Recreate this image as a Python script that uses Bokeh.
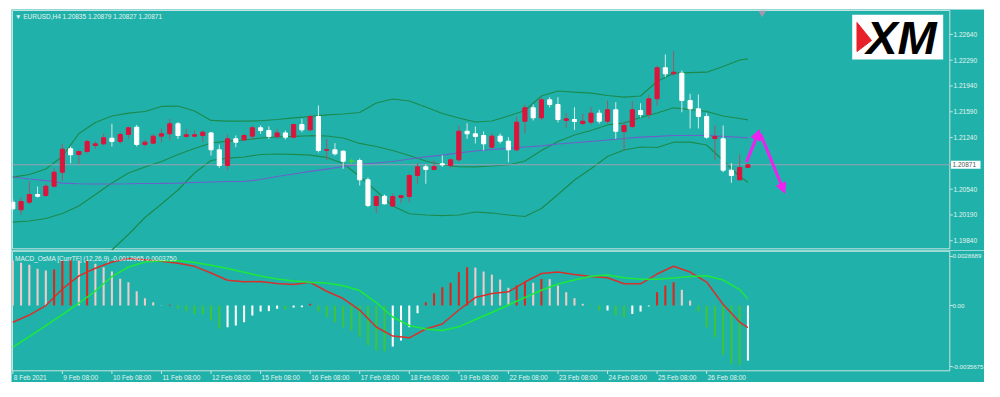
from bokeh.plotting import figure
from bokeh.models import Range1d, Spacer, Arrow, NormalHead
from bokeh.layouts import column, row
from bokeh.embed import file_html
from bokeh.resources import INLINE
from bokeh.core.properties import value

# ---------------- data (EURUSD H4) ----------------
bar_open = [1.20363, 1.20260, 1.20363, 1.20467, 1.20454, 1.20580, 1.20770, 1.21088, 1.21010, 1.21051,
            1.21132, 1.21155, 1.21231, 1.21187, 1.21282, 1.21381, 1.21146, 1.21164, 1.21259, 1.21291,
            1.21427, 1.21255, 1.21259, 1.21268, 1.21303, 1.21074, 1.20861, 1.21223, 1.21210, 1.21259,
            1.21373, 1.21336, 1.21255, 1.21303, 1.21245, 1.21417, 1.21345, 1.21526, 1.21068, 1.21074,
            1.21055, 1.20919, 1.20929, 1.20667, 1.20318, 1.20444, 1.20310, 1.20427, 1.20440, 1.20725,
            1.20843, 1.20807, 1.20884, 1.20861, 1.20938, 1.21326, 1.21291, 1.21268, 1.21109, 1.21259,
            1.21191, 1.21074, 1.21462, 1.21644, 1.21508, 1.21752, 1.21689, 1.21472, 1.21485, 1.21431,
            1.21449, 1.21571, 1.21462, 1.21617, 1.21322, 1.21390, 1.21607, 1.21553, 1.21766, 1.22187,
            1.22105, 1.22114, 1.21743, 1.21630, 1.21526, 1.21227, 1.21223, 1.20797, 1.20667, 1.20835]
bar_high = [1.20400, 1.20431, 1.20644, 1.20576, 1.20613, 1.20824, 1.21155, 1.21119, 1.21065, 1.21210,
            1.21191, 1.21291, 1.21427, 1.21313, 1.21390, 1.21411, 1.21214, 1.21291, 1.21359, 1.21495,
            1.21451, 1.21359, 1.21336, 1.21336, 1.21316, 1.21146, 1.21282, 1.21268, 1.21295, 1.21404,
            1.21404, 1.21390, 1.21359, 1.21336, 1.21427, 1.21495, 1.21553, 1.21675, 1.21223, 1.21164,
            1.21065, 1.20956, 1.20956, 1.20698, 1.20467, 1.20467, 1.20485, 1.20467, 1.20748, 1.20892,
            1.20874, 1.20929, 1.21000, 1.20956, 1.21404, 1.21435, 1.21390, 1.21322, 1.21295, 1.21295,
            1.21245, 1.21526, 1.21689, 1.21689, 1.21784, 1.21788, 1.21788, 1.21571, 1.21652, 1.21562,
            1.21652, 1.21617, 1.21743, 1.21720, 1.21462, 1.21734, 1.21706, 1.21824, 1.22218, 1.22369,
            1.22414, 1.22150, 1.21834, 1.21824, 1.21571, 1.21404, 1.21404, 1.20892, 1.21015, 1.20879]
bar_low = [1.20250, 1.20192, 1.20332, 1.20427, 1.20440, 1.20562, 1.20657, 1.20892, 1.20884, 1.21020,
           1.21088, 1.21132, 1.21119, 1.21155, 1.21223, 1.21119, 1.21119, 1.21146, 1.21177, 1.21200,
           1.21223, 1.21237, 1.21241, 1.21177, 1.20997, 1.20830, 1.20803, 1.21109, 1.21187, 1.21214,
           1.21291, 1.21223, 1.21223, 1.21214, 1.21227, 1.21313, 1.21322, 1.21037, 1.20938, 1.20997,
           1.20816, 1.20881, 1.20590, 1.20295, 1.20214, 1.20332, 1.20305, 1.20349, 1.20363, 1.20613,
           1.20613, 1.20793, 1.20843, 1.20820, 1.20906, 1.21223, 1.21160, 1.21065, 1.21092, 1.21160,
           1.20906, 1.21051, 1.21295, 1.21472, 1.21472, 1.21648, 1.21445, 1.21373, 1.21345, 1.21404,
           1.21417, 1.21431, 1.21431, 1.21223, 1.21074, 1.21363, 1.21512, 1.21495, 1.21675, 1.22060,
           1.22082, 1.21584, 1.21363, 1.21363, 1.21223, 1.20929, 1.20770, 1.20625, 1.20657, 1.20827]
bar_close = [1.20273, 1.20372, 1.20467, 1.20444, 1.20580, 1.20770, 1.21082, 1.21006, 1.21051, 1.21187,
             1.21155, 1.21237, 1.21187, 1.21282, 1.21373, 1.21146, 1.21177, 1.21259, 1.21291, 1.21427,
             1.21268, 1.21278, 1.21278, 1.21313, 1.21074, 1.20861, 1.21223, 1.21177, 1.21268, 1.21373,
             1.21336, 1.21255, 1.21303, 1.21245, 1.21417, 1.21345, 1.21526, 1.21065, 1.21076, 1.21020,
             1.20919, 1.20919, 1.20667, 1.20318, 1.20440, 1.20341, 1.20440, 1.20450, 1.20725, 1.20843,
             1.20807, 1.20847, 1.20870, 1.20938, 1.21326, 1.21291, 1.21255, 1.21155, 1.21259, 1.21191,
             1.21074, 1.21449, 1.21644, 1.21508, 1.21752, 1.21689, 1.21485, 1.21495, 1.21458, 1.21462,
             1.21571, 1.21462, 1.21617, 1.21326, 1.21404, 1.21617, 1.21553, 1.21766, 1.22187, 1.22105,
             1.22127, 1.21743, 1.21630, 1.21526, 1.21245, 1.21255, 1.20797, 1.20725, 1.20834, 1.20871]
bar_idx = list(range(len(bar_close)))

# indicator lines, sampled every second bar (+ last bar)
line_idx = list(range(0, 89, 2)) + [89]
bb_upper = [1.20702, 1.20739, 1.20813, 1.20983, 1.21295, 1.21444, 1.21533, 1.21571, 1.21594, 1.21662,
            1.21668, 1.21601, 1.21472, 1.21462, 1.21462, 1.21468, 1.21485, 1.21506, 1.21526, 1.21549,
            1.21560, 1.21580, 1.21709, 1.21763, 1.21736, 1.21655, 1.21567, 1.21506, 1.21451, 1.21465,
            1.21533, 1.21607, 1.21804, 1.21872, 1.21856, 1.21842, 1.21811, 1.21790, 1.21804, 1.22001,
            1.22113, 1.22120, 1.22127, 1.22204, 1.22293, 1.22309]
bb_middle = [1.20092, 1.20108, 1.20142, 1.20210, 1.20311, 1.20467, 1.20623, 1.20759, 1.20841, 1.20915,
             1.21010, 1.21092, 1.21166, 1.21193, 1.21207, 1.21234, 1.21248, 1.21257, 1.21265, 1.21261,
             1.21234, 1.21160, 1.21119, 1.21065, 1.20997, 1.20922, 1.20868, 1.20845, 1.20841, 1.20854,
             1.20868, 1.20922, 1.21065, 1.21187, 1.21275, 1.21336, 1.21411, 1.21438, 1.21512, 1.21573,
             1.21644, 1.21621, 1.21594, 1.21533, 1.21499, 1.21481]
bb_lower = [1.19481, 1.19477, 1.19470, 1.19436, 1.19390, 1.19490, 1.19714, 1.19925, 1.20155, 1.20339,
            1.20529, 1.20759, 1.20929, 1.20960, 1.20976, 1.21010, 1.21017, 1.21013, 1.21003, 1.20970,
            1.20888, 1.20712, 1.20515, 1.20311, 1.20206, 1.20189, 1.20182, 1.20189, 1.20230, 1.20216,
            1.20189, 1.20169, 1.20277, 1.20467, 1.20664, 1.20816, 1.20983, 1.21071, 1.21112, 1.21105,
            1.21177, 1.21177, 1.21139, 1.20929, 1.20712, 1.20634]
ma_line = [1.20705, 1.20678, 1.20657, 1.20623, 1.20613, 1.20610, 1.20610, 1.20613, 1.20617, 1.20619,
           1.20623, 1.20630, 1.20637, 1.20644, 1.20644, 1.20671, 1.20712, 1.20746, 1.20780, 1.20813,
           1.20847, 1.20875, 1.20895, 1.20915, 1.20949, 1.20979, 1.21003, 1.21031, 1.21058, 1.21078,
           1.21094, 1.21112, 1.21126, 1.21153, 1.21170, 1.21187, 1.21207, 1.21227, 1.21245, 1.21255,
           1.21268, 1.21268, 1.21268, 1.21255, 1.21244, 1.21237]

# MACD_OsMA pane
osma = [0.00263, 0.00250, 0.00238, 0.00215, 0.00205, 0.00211, 0.00263, 0.00267, 0.00263, 0.00265,
        0.00244, 0.00224, 0.00199, 0.00156, 0.00136, 0.00084, 0.00043, 0.00019, 0.00002, 0.00005,
        -0.00019, -0.00033, -0.00049, -0.00053, -0.00088, -0.00136, -0.00127, -0.00117, -0.00098, -0.00059,
        -0.00035, -0.00033, -0.00019, -0.00021, -0.00012, -0.00010, 0.00010, -0.00035, -0.00068, -0.00098,
        -0.00127, -0.00146, -0.00185, -0.00234, -0.00263, -0.00269, -0.00240, -0.00205, -0.00127, -0.00045,
        0.00019, 0.00072, 0.00107, 0.00133, 0.00195, 0.00224, 0.00222, 0.00199, 0.00181, 0.00152,
        0.00104, 0.00117, 0.00140, 0.00133, 0.00156, 0.00154, 0.00117, 0.00078, 0.00043, 0.00010,
        -0.00006, -0.00031, -0.00029, -0.00059, -0.00068, -0.00049, -0.00035, -0.00005, 0.00078, 0.00117,
        0.00136, 0.00092, 0.00029, -0.00035, -0.00127, -0.00185, -0.00288, -0.00341, -0.00347, -0.00322]
macd_main = [-0.000977, -0.000556, 0.0, 0.000965, 0.001738, 0.002182, 0.002545, 0.00275, 0.002674, 0.002586,
             0.002469, 0.002294, 0.001902, 0.00148, 0.001387, 0.001404, 0.001287, 0.001229, 0.001357, 0.000837,
             0.00041, -0.000263, -0.001258, -0.001785, -0.00189, -0.001375, -0.001082, -0.000263, 0.000468, 0.000702,
             0.000802, 0.001375, 0.001872, 0.00196, 0.001814, 0.001697, 0.001621, 0.00127, 0.00127, 0.001843,
             0.002299, 0.00196, 0.001375, 0.000059, -0.000965, -0.0012965]
macd_signal = [-0.00244, -0.001814, -0.00117, -0.000527, 0.000135, 0.000848, 0.001697, 0.002253, 0.002545, 0.002621,
               0.002615, 0.002516, 0.002358, 0.002165, 0.001943, 0.001726, 0.001551, 0.001433, 0.001363, 0.001316,
               0.001153, 0.000878, 0.000176, -0.000673, -0.00117, -0.001375, -0.001463, -0.001246, -0.000819, -0.00041,
               0.000029, 0.000468, 0.000895, 0.001258, 0.001492, 0.001714, 0.001785, 0.001621, 0.001539, 0.001533,
               0.001609, 0.001697, 0.001738, 0.001492, 0.000936, 0.000375]

price_ticks = [1.22640, 1.22290, 1.21940, 1.21590, 1.21240, 1.20540, 1.20190, 1.19840]
macd_ticks = [0.0028689, 0.0, -0.0035675]
macd_tick_labels = ["0.0028689", "0.00", "-0.0035675"]
time_tick_idx = [0, 6, 12, 18, 24, 30, 36, 42, 48, 54, 60, 66, 72, 78, 84]
time_tick_labels = ["8 Feb 2021", "9 Feb 08:00", "10 Feb 08:00", "11 Feb 08:00", "12 Feb 08:00",
                    "15 Feb 08:00", "16 Feb 08:00", "17 Feb 08:00", "18 Feb 08:00", "19 Feb 08:00",
                    "22 Feb 08:00", "23 Feb 08:00", "24 Feb 08:00", "25 Feb 08:00", "26 Feb 08:00"]

# hand-drawn forecast arrows (bar index, price)
arrow_x0 = [88.83, 90.52]
arrow_y0 = [1.20906, 1.21291]
arrow_x1 = [90.40, 93.46]
arrow_y1 = [1.21345, 1.20485]

# ---------------- styling / geometry ----------------
TEAL = "#20b2aa"
FRAME = "#c6e4e0"
LBL = "#e4f3f1"
FONT = value("Liberation Sans")
FS = "6.5px"
BULL, BEAR, DOJI = "#dc143c", "#ffffff", "#3fd23f"
MAG = "#ee22ee"

X0, DX = 12.3, 8.26            # page px of bar 0 and bar spacing
def ix(px):
    return (px - X0) / DX
P0, PK = 1.2310, 0.0001357     # price scale of the main pane
def pp(py):
    return P0 - PK * py
MZ, MK = 305.03, 0.00005851    # value scale of the indicator pane
def mp(py):
    return (MZ - py) * MK

LEFT, RIGHT = 11, 984
common = dict(output_backend="svg", toolbar_location=None, min_border=0,
              x_axis_type=None, y_axis_type=None, background_fill_color=TEAL,
              border_fill_color=TEAL, outline_line_color=None)

# ---------------- main pane ----------------
main = figure(width=RIGHT - LEFT, height=241,
              x_range=Range1d(ix(LEFT), ix(RIGHT)), y_range=Range1d(pp(250), pp(9)), **common)

bx_l, bx_r = ix(12), ix(949.3)
by_t, by_b = pp(10), pp(248.3)
main.segment(x0=[bx_l, bx_r, bx_l, bx_l], y0=[by_t, by_t, by_t, by_b],
             x1=[bx_l, bx_r, bx_r, bx_r], y1=[by_b, by_b, by_t, by_b], color=FRAME, line_width=1)

# bollinger bands and moving average
for band in (bb_upper, bb_middle, bb_lower):
    main.line(line_idx, band, color="#1c8a4e", line_width=1.2)
main.line(line_idx, ma_line, color="#6a62c8", line_width=1.2)

# bid line
last = bar_close[-1]
main.segment(x0=[bx_l], y0=[last], x1=[bx_r], y1=[last], color="#9aa0b4", line_width=1)

# candles
body_col, wick_col, b_top, b_bot = [], [], [], []
for o, c in zip(bar_open, bar_close):
    if c > o:
        body_col.append(BULL); wick_col.append("#9b5a6a")
    elif c < o:
        body_col.append(BEAR); wick_col.append("#d6eae8")
    else:
        body_col.append(DOJI); wick_col.append(DOJI)
    b_top.append(max(o, c)); b_bot.append(min(o, c))
main.segment(x0=bar_idx, y0=bar_low, x1=bar_idx, y1=bar_high, color=wick_col, line_width=1)
main.vbar(x=bar_idx, width=0.5, top=b_top, bottom=b_bot, fill_color=body_col, line_color=body_col, line_width=1)
doji = [i for i in bar_idx if bar_open[i] == bar_close[i]]
main.segment(x0=[i - 0.35 for i in doji], y0=[bar_close[i] for i in doji],
             x1=[i + 0.35 for i in doji], y1=[bar_close[i] for i in doji], color=DOJI, line_width=1.5)

# price scale
main.segment(x0=[bx_r] * len(price_ticks), y0=price_ticks, x1=[ix(952.3)] * len(price_ticks), y1=price_ticks,
             color=FRAME, line_width=1)
main.text(x=[ix(953)] * len(price_ticks), y=price_ticks, text=[f"{p:.5f}" for p in price_ticks],
          text_font=FONT, text_font_size=FS, text_color=LBL, text_baseline="middle", text_align="left")
main.quad(left=[ix(950.5)], right=[ix(980)], top=[last + 4 * PK], bottom=[last - 4 * PK],
          fill_color="#ffffff", line_color=None)
main.text(x=[ix(952)], y=[last], text=[f"{last:.5f}"], text_font=FONT, text_font_size=FS,
          text_color="#4c5c5c", text_baseline="middle", text_align="left")

# header
main.text(x=[ix(14.5)], y=[pp(15.5)],
          text=[f"\u25bc EURUSD,H4  {bar_open[-1]:.5f} {bar_high[-1]:.5f} {bar_low[-1]:.5f} {bar_close[-1]:.5f}"],
          text_font=FONT, text_font_size=FS, text_color=LBL, text_baseline="middle", text_align="left")

# chart shift marker
main.scatter(x=[ix(761.7)], y=[pp(12.5)], marker="inverted_triangle", size=6, color="#a896b0")

# XM logo
main.quad(left=[ix(851.7)], right=[ix(942.7)], top=[pp(14.3)], bottom=[pp(59)], fill_color="#ffffff", line_color=None)
main.patch(x=[ix(856.5), ix(871), ix(856.5)], y=[pp(22), pp(40), pp(51)], color="#e8202a")
main.text(x=[ix(901)], y=[pp(37)], text=["XM"], text_font=FONT, text_font_style="bold italic",
          text_font_size="47px", text_color="#000000", text_align="center", text_baseline="middle")

# forecast arrows
for xs, ys, xe, ye in zip(arrow_x0, arrow_y0, arrow_x1, arrow_y1):
    main.add_layout(Arrow(end=NormalHead(size=10, fill_color=MAG, line_color=MAG, line_width=1),
                          x_start=xs, y_start=ys, x_end=xe, y_end=ye, line_color=MAG, line_width=3))

# ---------------- MACD_OsMA pane ----------------
sub = figure(width=RIGHT - LEFT, height=132,
             x_range=Range1d(ix(LEFT), ix(RIGHT)), y_range=Range1d(mp(382), mp(250)), **common)

sy_t, sy_b = mp(250.8), mp(370.3)
sub.segment(x0=[bx_l, bx_r, bx_l, bx_l], y0=[sy_t, sy_t, sy_t, sy_b],
            x1=[bx_l, bx_r, bx_r, bx_r], y1=[sy_b, sy_b, sy_t, sy_b], color=FRAME, line_width=1)

h_col = []
prev = None
for v in osma:
    rising = prev is not None and v > prev
    if v >= 0:
        h_col.append("#e0241e" if rising else "#f3c9c9")
    else:
        h_col.append("#ffffff" if rising else "#3cc43c")
    prev = v
sub.vbar(x=bar_idx, width=0.25, top=[max(v, 0) for v in osma], bottom=[min(v, 0) for v in osma],
         fill_color=h_col, line_color=None)
sub.line(line_idx, macd_main, color="#d8302c", line_width=1.5)
sub.line(line_idx, macd_signal, color="#1ee83a", line_width=1.5)

sub.text(x=[ix(14.5)], y=[mp(257.5)],
         text=[f"MACD_OsMA [CurrTF] (12,26,9) {macd_main[-1]:.7f} {macd_signal[-1]:.7f}"],
         text_font=FONT, text_font_size=FS, text_color=LBL, text_baseline="middle", text_align="left")

sub.segment(x0=[bx_r] * 3, y0=macd_ticks, x1=[ix(952.3)] * 3, y1=macd_ticks, color=FRAME, line_width=1)
sub.text(x=[ix(952)] * 3, y=macd_ticks, text=macd_tick_labels, text_font=FONT, text_font_size="6.1px",
         text_color=LBL, text_baseline="middle", text_align="left")

n_t = len(time_tick_idx)
sub.segment(x0=time_tick_idx, y0=[sy_b] * n_t, x1=time_tick_idx, y1=[mp(373.5)] * n_t, color=FRAME, line_width=1)
sub.text(x=time_tick_idx, y=[mp(376.5)] * n_t, text=time_tick_labels, x_offset=1, text_font=FONT,
         text_font_size=FS, text_color=LBL, text_baseline="middle", text_align="left")

# the page is drawn from its top-left corner: keep the 8px margin ourselves
layout = row(Spacer(width=LEFT), column(Spacer(height=9), main, sub, spacing=0), spacing=0)
open("out.html", "w").write(file_html(layout, INLINE))
